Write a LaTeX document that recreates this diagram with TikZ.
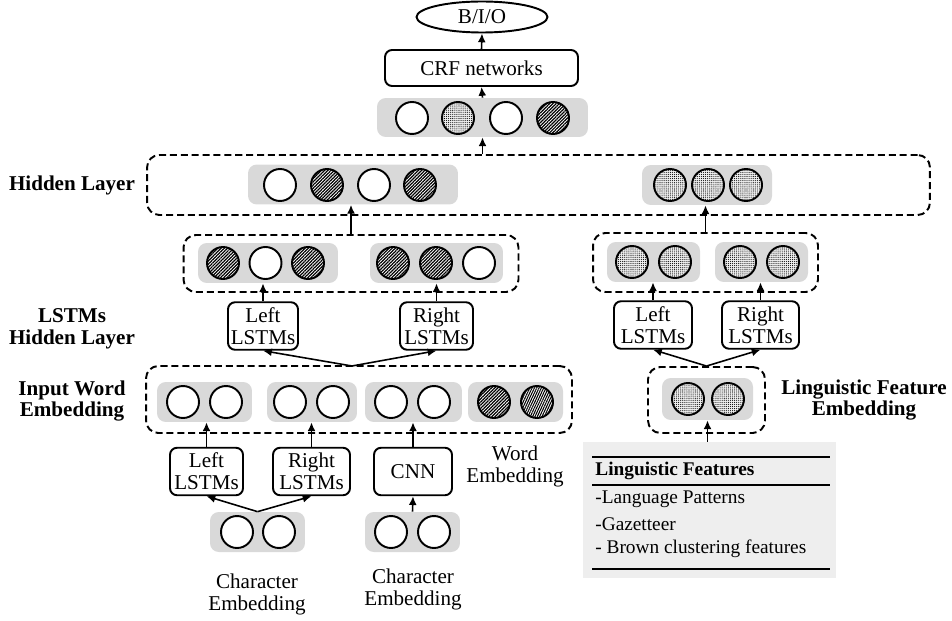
\documentclass[tikz,border=0pt]{standalone}
\usepackage{fontspec}
\setmainfont{Liberation Serif}
\usetikzlibrary{shapes.geometric,arrows.meta,patterns.meta}

\tikzset{
  cell/.style={circle, draw, line width=1.1pt, minimum size=0.64cm, inner sep=0pt},
  wcell/.style={cell, fill=white},
  hcell/.style={cell, preaction={fill=white}, pattern={Lines[angle=45,distance=1.3pt,line width=0.7pt]}},
  hcellb/.style={cell, preaction={fill=white}, pattern={Lines[angle=65,distance=1.2pt,line width=0.6pt]}},
  dcell/.style={cell, preaction={fill=gray!12}, pattern={Dots[distance=1.1pt,radius=0.3pt]}},
  row/.style={fill=gray!30, rounded corners=5pt, minimum height=0.8cm, inner sep=0pt},
  lbox/.style={draw, line width=1.1pt, rounded corners=4pt, align=center, inner sep=0pt, minimum height=0.95cm, fill=white},
  grp/.style={draw, line width=1.1pt, dash pattern=on 4pt off 2.2pt, rounded corners=7pt, inner sep=0pt},
  lab/.style={font=\bfseries, align=center},
  arr/.style={-{Latex[length=5pt,width=4.5pt]}, line width=0.9pt},
  feattext/.style={anchor=west, inner sep=0pt, font=\fontsize{11pt}{12pt}\selectfont},
}

\begin{document}
\fontsize{12pt}{12.5pt}\selectfont
\begin{tikzpicture}[x=0.02cm, y=-0.02cm]
    \useasboundingbox (0,0) rectangle (952,621);

    % Выход: B/I/O и CRF
    \node[draw, ellipse, line width=1.1pt, minimum width=2.62cm, minimum height=0.62cm, inner sep=0pt] (bio) at (482,17) {B/I/O};
    \node[lbox, minimum width=3.86cm, minimum height=0.72cm] (crf) at (481.5,68) {CRF networks};
    \node[row, minimum width=4.22cm, minimum height=0.78cm] (out) at (482.5,117.5) {};
    \node[wcell] (o1) at (412,118) {};
    \node[dcell] (o2) at (458,118) {};
    \node[wcell] (o3) at (506,118) {};
    \node[hcell] (o4) at (553,118) {};
    \draw[arr] (crf.north) -- (bio.south);
    \draw[arr] (out.north) -- (crf.south);

    % Hidden Layer
    \node[grp, minimum width=15.66cm, minimum height=1.2cm] (hid) at (538.5,185) {};
    \node[lab] (hidlab) at (72,185) {Hidden Layer};
    \node[row, minimum width=4.2cm] (hl) at (353,184.5) {};
    \node[wcell] (h1) at (280,185) {};
    \node[hcell] (h2) at (327,185) {};
    \node[wcell] (h3) at (374,185) {};
    \node[hcell] (h4) at (420,185) {};
    \node[row, minimum width=2.6cm] (hr) at (707,185) {};
    \node[dcell] (h5) at (670,185) {};
    \node[dcell] (h6) at (708,185) {};
    \node[dcell] (h7) at (746,185) {};
    \draw[arr] (out.south |- hid.north) -- (out.south);

    % LSTMs Hidden Layer (слова)
    \node[grp, minimum width=6.7cm, minimum height=1.14cm] (lg) at (351,263.5) {};
    \node[row, minimum width=2.8cm] (lgl) at (268,263) {};
    \node[hcell] (l1) at (223,263) {};
    \node[wcell] (l2) at (265.5,263) {};
    \node[hcell] (l3) at (308,263) {};
    \node[row, minimum width=2.66cm] (lgr) at (436.5,263) {};
    \node[hcell] (l4) at (393,263) {};
    \node[hcell] (l5) at (436,263) {};
    \node[wcell] (l6) at (479,263) {};
    \node[lbox, minimum width=1.4cm] (wl) at (263,326) {Left\\LSTMs};
    \node[lbox, minimum width=1.46cm] (wr) at (436.5,326) {Right\\LSTMs};
    \node[lab] (lstmlab) at (72,329) {LSTMs\\Hidden Layer};
    \draw[arr] (wl.north) -- (wl.north |- lgl.south);
    \draw[arr] (wr.north) -- (wr.north |- lgr.south);
    \draw[arr] (lg.north) -- (lg.north |- hl.south);

    % LSTMs (лингвистические признаки)
    \node[grp, minimum width=4.5cm, minimum height=1.18cm] (fg) at (705.5,262.5) {};
    \node[row, minimum width=1.86cm] (fgl) at (653.5,262) {};
    \node[dcell] (f1) at (632,262) {};
    \node[dcell] (f2) at (675,262) {};
    \node[row, minimum width=1.86cm] (fgr) at (761.5,262) {};
    \node[dcell] (f3) at (740,262) {};
    \node[dcell] (f4) at (783,262) {};
    \node[lbox, minimum width=1.56cm] (fl) at (653,325) {Left\\LSTMs};
    \node[lbox, minimum width=1.54cm] (fr) at (760.5,325) {Right\\LSTMs};
    \draw[arr] (fl.north) -- (fl.north |- fgl.south);
    \draw[arr] (fr.north) -- (fr.north |- fgr.south);
    \draw[arr] (fg.north) -- (fg.north |- hr.south);

    % Input Word Embedding
    \node[grp, minimum width=8.52cm, minimum height=1.34cm] (ig) at (359,399.5) {};
    \node[lab] (inlab) at (72,401) {Input Word\\Embedding};
    \node[row, minimum width=1.9cm] (i1) at (204.5,402) {};
    \node[wcell] (e1) at (183,402) {};
    \node[wcell] (e2) at (226,402) {};
    \node[row, minimum width=1.8cm] (i2) at (312,402) {};
    \node[wcell] (e3) at (290,402) {};
    \node[wcell] (e4) at (333,402) {};
    \node[row, minimum width=1.94cm] (i3) at (413.5,402) {};
    \node[wcell] (e5) at (391,402) {};
    \node[wcell] (e6) at (434,402) {};
    \node[row, minimum width=1.9cm] (i4) at (515.5,402) {};
    \node[hcell] (e7) at (494,402) {};
    \node[hcellb] (e8) at (537,402) {};
    \coordinate (isplit) at (352,366);
    \draw[arr] (isplit) -- (wl.south);
    \draw[arr] (isplit) -- (wr.south);

    % Character Embedding (LSTM и CNN)
    \node[lbox, minimum width=1.46cm] (cl) at (206.5,471.5) {Left\\LSTMs};
    \node[lbox, minimum width=1.54cm] (cr) at (311.5,471.5) {Right\\LSTMs};
    \node[lbox, minimum width=1.56cm] (cnn) at (413,471.5) {CNN};
    \draw[arr] (cl.north) -- (cl.north |- i1.south);
    \draw[arr] (cr.north) -- (cr.north |- i2.south);
    \draw[arr] (cnn.north) -- (cnn.north |- i3.south);
    \node[row, minimum width=1.9cm] (c1) at (257.5,532) {};
    \node[wcell] (ch1) at (237,532) {};
    \node[wcell] (ch2) at (279,532) {};
    \node[row, minimum width=1.9cm] (c2) at (412.5,532) {};
    \node[wcell] (ch3) at (391,532) {};
    \node[wcell] (ch4) at (434,532) {};
    \draw[arr] (c1.north) -- (cl.south);
    \draw[arr] (c1.north) -- (cr.south);
    \draw[arr] (c2.north) -- (cnn.south);
    \node[align=center] (chlab1) at (257,594) {Character\\Embedding};
    \node[align=center] (chlab2) at (413,589) {Character\\Embedding};
    \node[align=center] (wordlab) at (515,466) {Word\\Embedding};

    % Linguistic Feature Embedding
    \node[grp, minimum width=2.34cm, minimum height=1.32cm] (lf) at (706.5,400) {};
    \node[row, minimum width=1.82cm, minimum height=0.84cm] (lfr) at (707.5,399) {};
    \node[dcell] (g1) at (688,399) {};
    \node[dcell] (g2) at (728,399) {};
    \node[lab] (lflab) at (864,400) {Linguistic Feature\\Embedding};
    \draw[arr] (lf.north) -- (fl.south);
    \draw[arr] (lf.north) -- (fr.south);

    % Таблица признаков
    \node[fill=gray!13, minimum width=5.06cm, minimum height=2.72cm, inner sep=0pt] (feat) at (709.5,510) {};
    \draw[arr] (lfr.south |- feat.north) -- (lfr.south);
    \draw[line width=1.1pt] (592,457) -- (830,457);
    \draw[line width=1.1pt] (592,485) -- (830,485);
    \draw[line width=1.1pt] (592,569) -- (830,569);
    \node[feattext, font=\fontsize{11pt}{12pt}\selectfont\bfseries] (ft0) at (595,471) {Linguistic Features};
    \node[feattext] (ft1) at (595,499) {-Language Patterns};
    \node[feattext] (ft2) at (595,524) {-Gazetteer};
    \node[feattext] (ft3) at (595,549) {- Brown clustering features};

\end{tikzpicture}
\end{document}
